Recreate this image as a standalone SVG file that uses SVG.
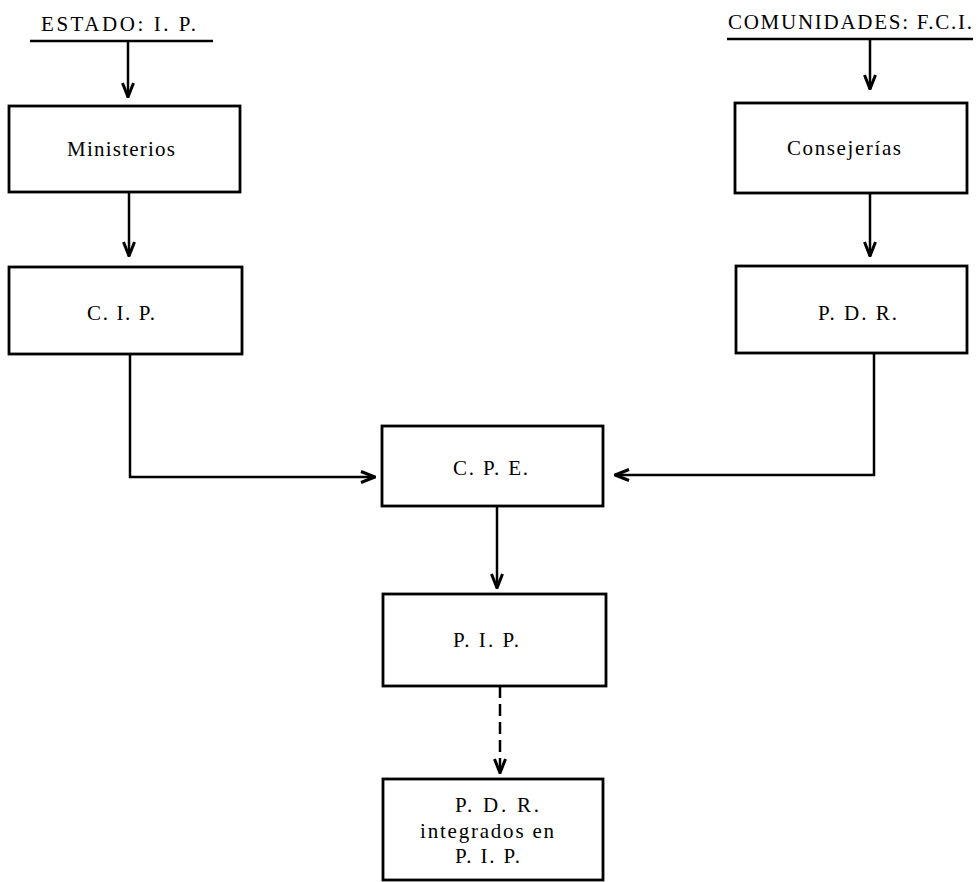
<svg xmlns="http://www.w3.org/2000/svg" width="978" height="882" viewBox="0 0 978 882">
<style>
.box{fill:#fff;stroke:#000;stroke-width:2.8}
.t{font-family:"Liberation Serif","Times New Roman",serif;font-size:21px;fill:#000}
.h{font-family:"Liberation Serif","Times New Roman",serif;font-size:21px;fill:#000}
.c{fill:none;stroke:#000;stroke-width:2.5}
.d{fill:none;stroke:#000;stroke-width:2.5;stroke-dasharray:12 6}
</style>
<defs>
<marker id="arr" viewBox="0 0 16 14" refX="15" refY="7" markerWidth="16" markerHeight="14" orient="auto" markerUnits="userSpaceOnUse">
<path d="M1,1.5 L15,7 L1,12.5" fill="none" stroke="#000" stroke-width="3"/>
</marker>
</defs>
<rect width="978" height="882" fill="#fff"/>
<g id="estado">
<text class="h" x="41" y="31" textLength="155" lengthAdjust="spacing">ESTADO: I. P.</text>
<line x1="30" y1="41" x2="213" y2="41" stroke="#000" stroke-width="2.5"/>
</g>
<g id="comunidades">
<text class="h" x="728" y="29" textLength="244" lengthAdjust="spacing">COMUNIDADES: F.C.I.</text>
<line x1="727" y1="39" x2="973" y2="39" stroke="#000" stroke-width="2.5"/>
</g>
<g id="ministerios">
<rect class="box" x="9" y="106" width="231" height="86"/>
<text class="t" x="67" y="156" textLength="108" lengthAdjust="spacing">Ministerios</text>
</g>
<g id="consejerias">
<rect class="box" x="735" y="103" width="232" height="90"/>
<text class="t" x="787" y="155" textLength="114" lengthAdjust="spacing">Consejerías</text>
</g>
<g id="cip">
<rect class="box" x="9" y="267" width="233" height="87"/>
<text class="t" x="87" y="320" textLength="68" lengthAdjust="spacing">C. I. P.</text>
</g>
<g id="pdr">
<rect class="box" x="736" y="266" width="231" height="87"/>
<text class="t" x="818" y="320" textLength="79" lengthAdjust="spacing">P. D. R.</text>
</g>
<g id="cpe">
<rect class="box" x="382" y="426" width="221" height="80"/>
<text class="t" x="453" y="475" textLength="75" lengthAdjust="spacing">C. P. E.</text>
</g>
<g id="pip">
<rect class="box" x="383" y="594" width="223" height="92"/>
<text class="t" x="453" y="647" textLength="66" lengthAdjust="spacing">P. I. P.</text>
</g>
<g id="pdr-integrados">
<rect class="box" x="383" y="779" width="220" height="101"/>
<text class="t" x="455" y="812" textLength="84" lengthAdjust="spacing">P. D. R.</text>
<text class="t" x="420" y="838" textLength="134" lengthAdjust="spacing">integrados en</text>
<text class="t" x="455" y="863" textLength="65" lengthAdjust="spacing">P. I. P.</text>
</g>
<g id="connectors">
<line class="c" x1="128" y1="41" x2="128" y2="97" marker-end="url(#arr)"/>
<line class="c" x1="870" y1="39" x2="870" y2="89" marker-end="url(#arr)"/>
<line class="c" x1="129" y1="192" x2="129" y2="256" marker-end="url(#arr)"/>
<line class="c" x1="870" y1="193" x2="870" y2="256" marker-end="url(#arr)"/>
<polyline class="c" points="130,354 130,477 375,477" marker-end="url(#arr)"/>
<polyline class="c" points="874,353 874,475 615,475" marker-end="url(#arr)"/>
<line class="c" x1="497" y1="506" x2="497" y2="588" marker-end="url(#arr)"/>
<line class="d" x1="500" y1="686" x2="500" y2="773" marker-end="url(#arr)"/>
</g>
</svg>
